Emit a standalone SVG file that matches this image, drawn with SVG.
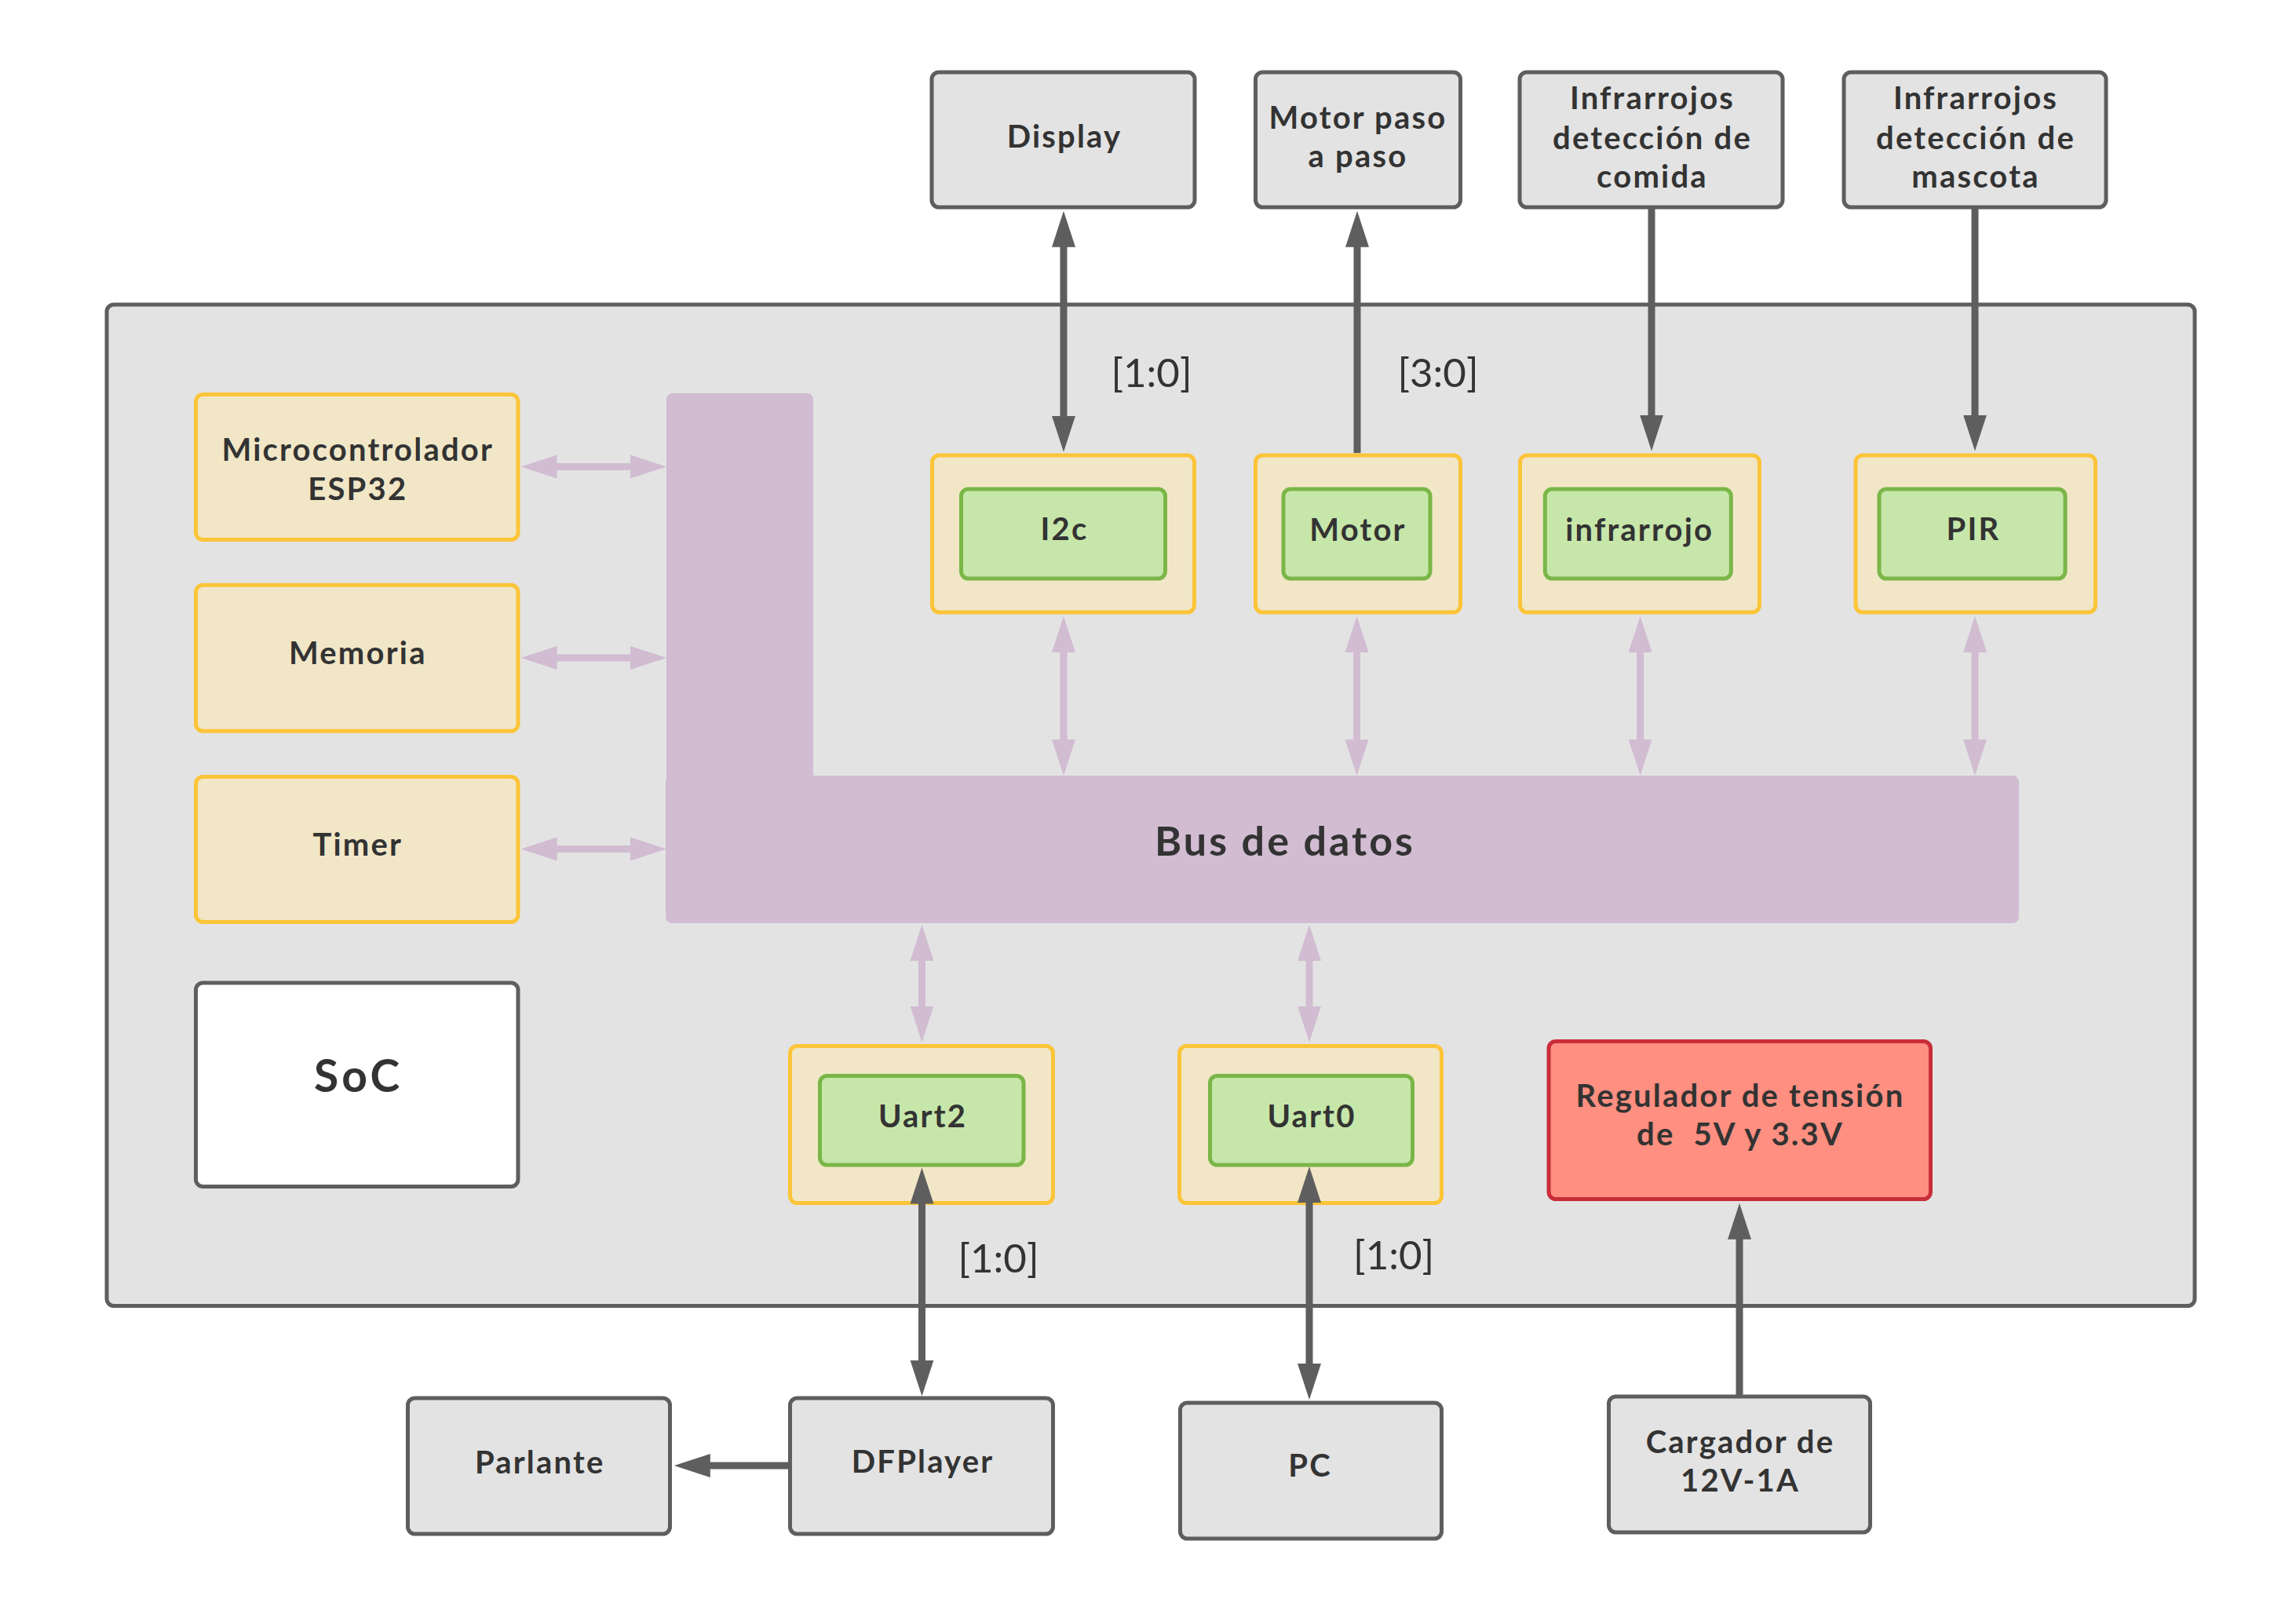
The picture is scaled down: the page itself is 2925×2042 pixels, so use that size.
<svg xmlns="http://www.w3.org/2000/svg" width="2925" height="2042" viewBox="0 0 2925 2042">
<style>
.gray{fill:#e3e3e3;stroke:#5e5e5e;stroke-width:5}
.white{fill:#ffffff;stroke:#5e5e5e;stroke-width:5}
.yel{fill:#f1e7c7;stroke:#fcc438;stroke-width:5}
.grn{fill:#c7e7aa;stroke:#7ab648;stroke-width:5}
.red{fill:#ff8f80;stroke:#c92d39;stroke-width:5}
.bus{fill:#d1bcd2}
.lbl{font-family:Lato,"Liberation Sans",sans-serif;font-weight:bold;font-size:40px;letter-spacing:2.2px;fill:#333333;text-anchor:middle;white-space:pre}
.big{font-size:52px;letter-spacing:3px}
.soc{font-size:57px;letter-spacing:4px}
.edge{font-family:Lato,"Liberation Sans",sans-serif;font-weight:normal;font-size:51px;fill:#333333;text-anchor:middle}
.conn{stroke:#5e5e5e;stroke-width:9;fill:none}
.pconn{stroke:#d1bcd2;stroke-width:9;fill:none}
</style>
<defs>
<marker id="ag" markerUnits="userSpaceOnUse" markerWidth="48" markerHeight="32" viewBox="0 0 48 32" refX="1" refY="16" orient="auto-start-reverse"><path d="M0,1 L46,16 L0,31 z" fill="#5e5e5e"/></marker>
<marker id="ap" markerUnits="userSpaceOnUse" markerWidth="48" markerHeight="32" viewBox="0 0 48 32" refX="1" refY="16" orient="auto-start-reverse"><path d="M0,1 L46,16 L0,31 z" fill="#d1bcd2"/></marker>
</defs>

<g id="soc-container"><rect class="gray" x="136" y="388" width="2660" height="1275.5" rx="9"/></g>

<g id="bus">
<rect class="bus" x="849" y="501" width="187" height="500" rx="8"/>
<rect class="bus" x="848" y="988" width="1724" height="188" rx="8"/>
<text class="lbl big" x="1637" y="1090">Bus de datos</text>
</g>

<g id="display"><rect class="gray" x="1187" y="92" width="335" height="172" rx="9"/><text class="lbl" x="1356" y="188">Display</text></g>
<g id="motor-paso"><rect class="gray" x="1599.5" y="92" width="261" height="172" rx="9"/><text class="lbl" x="1730" y="164">Motor paso</text><text class="lbl" x="1730" y="213">a paso</text></g>
<g id="ir-comida"><rect class="gray" x="1936" y="92" width="335" height="172" rx="9"/><text class="lbl" x="2105" y="139">Infrarrojos</text><text class="lbl" x="2105" y="189.5">detección de</text><text class="lbl" x="2105" y="239">comida</text></g>
<g id="ir-mascota"><rect class="gray" x="2349" y="92" width="334" height="172" rx="9"/><text class="lbl" x="2517" y="139">Infrarrojos</text><text class="lbl" x="2517" y="189.5">detección de</text><text class="lbl" x="2517" y="239">mascota</text></g>

<g id="micro"><rect class="yel" x="249.5" y="502.5" width="410.5" height="185" rx="9"/><text class="lbl" x="455.8" y="587">Microcontrolador</text><text class="lbl" x="455.8" y="636.5">ESP32</text></g>
<g id="memoria"><rect class="yel" x="249.5" y="745.3" width="410.5" height="186" rx="9"/><text class="lbl" x="455.8" y="846">Memoria</text></g>
<g id="timer"><rect class="yel" x="249.5" y="989.5" width="410.5" height="185" rx="9"/><text class="lbl" x="455.8" y="1090">Timer</text></g>
<g id="soc-label"><rect class="white" x="249.5" y="1252" width="410.5" height="259.5" rx="9"/><text class="lbl soc" x="456.7" y="1391">SoC</text></g>

<g id="i2c"><rect class="yel" x="1187.5" y="580" width="334" height="200" rx="9"/><rect class="grn" x="1224.5" y="623" width="260" height="114" rx="9"/><text class="lbl" x="1356" y="688">I2c</text></g>
<g id="motor"><rect class="yel" x="1599.5" y="580" width="261" height="200" rx="9"/><rect class="grn" x="1635" y="623" width="187" height="114" rx="9"/><text class="lbl" x="1730" y="689">Motor</text></g>
<g id="infrarrojo"><rect class="yel" x="1936.5" y="580" width="305" height="200" rx="9"/><rect class="grn" x="1968.3" y="623" width="237" height="114" rx="9"/><text class="lbl" x="2088.7" y="688.5">infrarrojo</text></g>
<g id="pir"><rect class="yel" x="2364" y="580" width="305.5" height="200" rx="9"/><rect class="grn" x="2394" y="623" width="237" height="114" rx="9"/><text class="lbl" x="2514" y="688">PIR</text></g>

<g id="uart2"><rect class="yel" x="1006.5" y="1332.5" width="335" height="200" rx="9"/><rect class="grn" x="1044.5" y="1370.5" width="259.5" height="113.5" rx="9"/><text class="lbl" x="1175.6" y="1436">Uart2</text></g>
<g id="uart0"><rect class="yel" x="1502.5" y="1332.5" width="334" height="200" rx="9"/><rect class="grn" x="1541.5" y="1370.5" width="258" height="113.5" rx="9"/><text class="lbl" x="1671" y="1436">Uart0</text></g>
<g id="regulador"><rect class="red" x="1973" y="1326.5" width="486.5" height="201" rx="9"/><text class="lbl" x="2217" y="1409.5">Regulador de tensión</text><text class="lbl" x="2217" y="1459">de  5V y 3.3V</text></g>

<g id="parlante"><rect class="gray" x="519.5" y="1781" width="334" height="173" rx="9"/><text class="lbl" x="687.7" y="1877">Parlante</text></g>
<g id="dfplayer"><rect class="gray" x="1006.5" y="1781" width="335" height="173" rx="9"/><text class="lbl" x="1175.6" y="1876">DFPlayer</text></g>
<g id="pc"><rect class="gray" x="1503.5" y="1787" width="333" height="173" rx="9"/><text class="lbl" x="1669" y="1881">PC</text></g>
<g id="cargador"><rect class="gray" x="2049.5" y="1779" width="333" height="173" rx="9"/><text class="lbl" x="2217" y="1851">Cargador de</text><text class="lbl" x="2217" y="1900">12V-1A</text></g>

<g id="connectors">
<line class="conn" x1="1355" y1="313.7" x2="1355" y2="530.8" marker-start="url(#ag)" marker-end="url(#ag)"/>
<line class="conn" x1="1729" y1="577" x2="1729" y2="313.7" marker-end="url(#ag)"/>
<line class="conn" x1="2104" y1="266" x2="2104" y2="529.5" marker-end="url(#ag)"/>
<line class="conn" x1="2516" y1="266" x2="2516" y2="529.5" marker-end="url(#ag)"/>
<line class="conn" x1="1174.5" y1="1532.5" x2="1174.5" y2="1733.6" marker-start="url(#ag)" marker-end="url(#ag)"/>
<line class="conn" x1="1668" y1="1531" x2="1668" y2="1738" marker-start="url(#ag)" marker-end="url(#ag)"/>
<line class="conn" x1="2216" y1="1777" x2="2216" y2="1577.8" marker-end="url(#ag)"/>
<line class="conn" x1="1004" y1="1867" x2="903.8" y2="1867" marker-end="url(#ag)"/>

<line class="pconn" x1="708.6" y1="594.6" x2="804" y2="594.6" marker-start="url(#ap)" marker-end="url(#ap)"/>
<line class="pconn" x1="708.6" y1="838" x2="804" y2="838" marker-start="url(#ap)" marker-end="url(#ap)"/>
<line class="pconn" x1="708.6" y1="1081.6" x2="804" y2="1081.6" marker-start="url(#ap)" marker-end="url(#ap)"/>
<line class="pconn" x1="1355" y1="830" x2="1355" y2="943" marker-start="url(#ap)" marker-end="url(#ap)"/>
<line class="pconn" x1="1728.5" y1="830" x2="1728.5" y2="943" marker-start="url(#ap)" marker-end="url(#ap)"/>
<line class="pconn" x1="2089.6" y1="830" x2="2089.6" y2="943" marker-start="url(#ap)" marker-end="url(#ap)"/>
<line class="pconn" x1="2516" y1="830" x2="2516" y2="943" marker-start="url(#ap)" marker-end="url(#ap)"/>
<line class="pconn" x1="1174.5" y1="1223" x2="1174.5" y2="1282.5" marker-start="url(#ap)" marker-end="url(#ap)"/>
<line class="pconn" x1="1668" y1="1223" x2="1668" y2="1282.5" marker-start="url(#ap)" marker-end="url(#ap)"/>

<text class="edge" x="1467" y="493">[1:0]</text>
<text class="edge" x="1832" y="493">[3:0]</text>
<text class="edge" x="1272" y="1620.5">[1:0]</text>
<text class="edge" x="1775.6" y="1617">[1:0]</text>
</g>
</svg>
